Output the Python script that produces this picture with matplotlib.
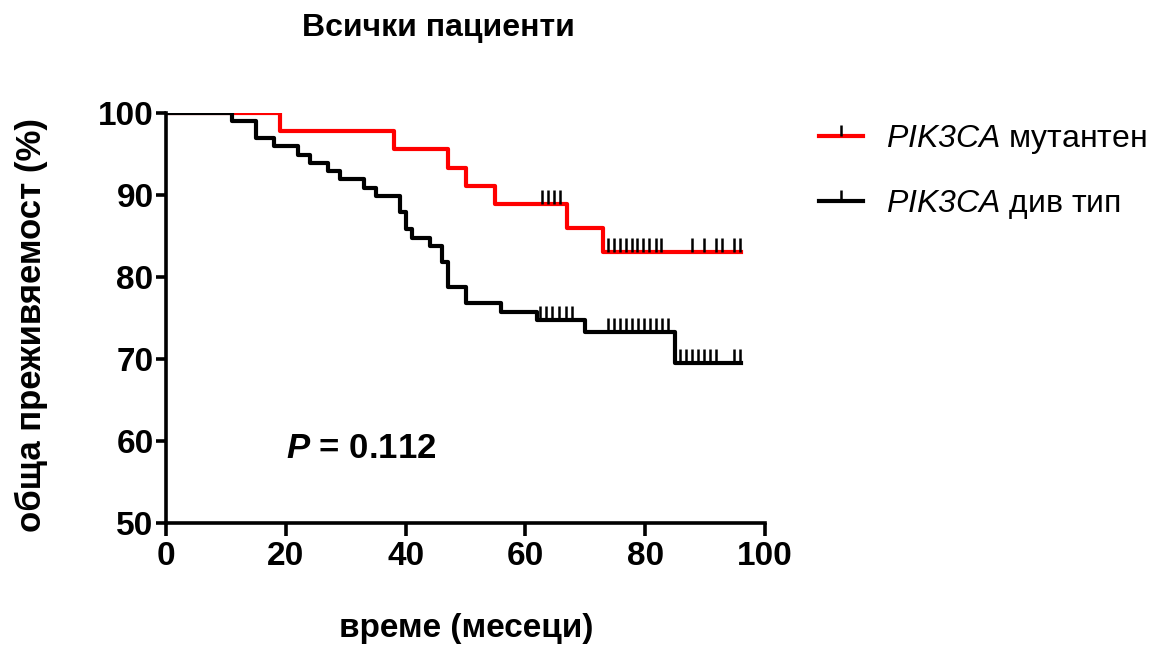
import matplotlib
matplotlib.use("Agg")
import matplotlib.pyplot as plt
from matplotlib.lines import Line2D

plt.rcParams['font.family'] = ['Liberation Sans', 'DejaVu Sans']
plt.rcParams['mathtext.fontset'] = 'custom'
plt.rcParams['mathtext.rm'] = 'Liberation Sans:italic'
plt.rcParams['mathtext.it'] = 'Liberation Sans:italic'
plt.rcParams['mathtext.bf'] = 'Liberation Sans:italic:bold'

# Kaplan-Meier steps (months, % survival)
mut_time = [0, 19, 38, 47, 50, 55, 67, 73, 96]
mut_surv = [100, 97.8, 95.6, 93.3, 91.1, 88.9, 86.0, 83.0, 83.0]
mut_cens_time = [62.8, 63.8, 64.8, 65.8,
                 73.8, 74.8, 75.8, 76.8, 77.8, 78.7, 79.7, 80.7, 81.8, 82.7,
                 87.8, 89.8, 91.8, 92.8, 94.8, 95.8]
mut_cens_surv = [88.9] * 4 + [83.0] * 16

wt_time = [0, 11, 15, 18, 22, 24, 27, 29, 33, 35, 39, 40, 41, 44, 46, 47, 50, 56, 62, 70, 85, 96]
wt_surv = [100, 99.0, 97.0, 96.0, 94.9, 93.9, 92.9, 91.9, 90.9, 89.9, 87.9, 85.9, 84.8, 83.8,
           81.8, 78.8, 76.8, 75.7, 74.7, 73.3, 69.5, 69.5]
wt_cens_time = [62.4, 63.4, 64.5, 65.6, 66.7, 67.8,
                73.8, 74.8, 75.8, 76.8, 77.8, 78.8, 79.8, 80.8, 81.8, 82.8, 83.8,
                85.8, 86.8, 87.8, 88.8, 89.8, 90.8, 91.8, 94.8, 95.8]
wt_cens_surv = [74.7] * 6 + [73.3] * 11 + [69.5] * 9

labels = [r'$\mathrm{PIK3CA}$ мутантен', r'$\mathrm{PIK3CA}$ див тип']
xticks = [0, 20, 40, 60, 80, 100]
yticks = [50, 60, 70, 80, 90, 100]

tick_up = [(0, 0), (0, 1)]

fig = plt.figure(figsize=(11.66, 6.46), dpi=100)
ax = fig.add_axes([0.1424, 0.1904, 0.5137, 0.6347])

ax.step(mut_time, mut_surv, where='post', color='red', lw=3)
ax.step(wt_time, wt_surv, where='post', color='black', lw=3)
ax.plot(mut_cens_time, mut_cens_surv, ls='none', marker=tick_up, ms=20,
        mec='black', mew=1.8)
ax.plot(wt_cens_time, wt_cens_surv, ls='none', marker=tick_up, ms=20,
        mec='black', mew=1.8)

ax.set_xlim(0, 100)
ax.set_ylim(50, 100)
ax.set_xticks(xticks)
ax.set_yticks(yticks)
for s in ['top', 'right']:
    ax.spines[s].set_visible(False)
for s in ['left', 'bottom']:
    ax.spines[s].set_linewidth(2.6)
ax.tick_params(axis='x', length=9, width=2.6, pad=4)
ax.tick_params(axis='y', length=7, width=2.6, pad=2)
for lab in ax.get_xticklabels() + ax.get_yticklabels():
    lab.set_fontweight('bold')
    lab.set_fontsize(24)

ax.text(20, 59.1, r'$\mathbf{P}$ = 0.112', fontsize=25, fontweight='bold', va='center')

fig.text(438 / 1166, 1 - 28 / 646, 'Всички пациенти', ha='center', va='center',
         fontsize=23, fontweight='bold')
fig.text(466 / 1166, 1 - 628 / 646, 'време (месеци)', ha='center', va='center',
         fontsize=24, fontweight='bold')
fig.text(31 / 1166, 1 - 325 / 646, 'обща преживяемост (%)', ha='center', va='center',
         rotation=90, fontsize=25, fontweight='bold')

handles = [Line2D([], [], color='red', lw=3, marker=tick_up, ms=16, mec='black', mew=1.8),
           Line2D([], [], color='black', lw=3, marker=tick_up, ms=16, mec='black', mew=1.8)]
fig.legend(handles, labels, loc='upper left', bbox_to_anchor=(790 / 1166, 1 - 94 / 646),
           frameon=False, fontsize=23, handlelength=1.4, handletextpad=0.7,
           labelspacing=1.0, numpoints=1)

fig.savefig('out.png', dpi=100)
